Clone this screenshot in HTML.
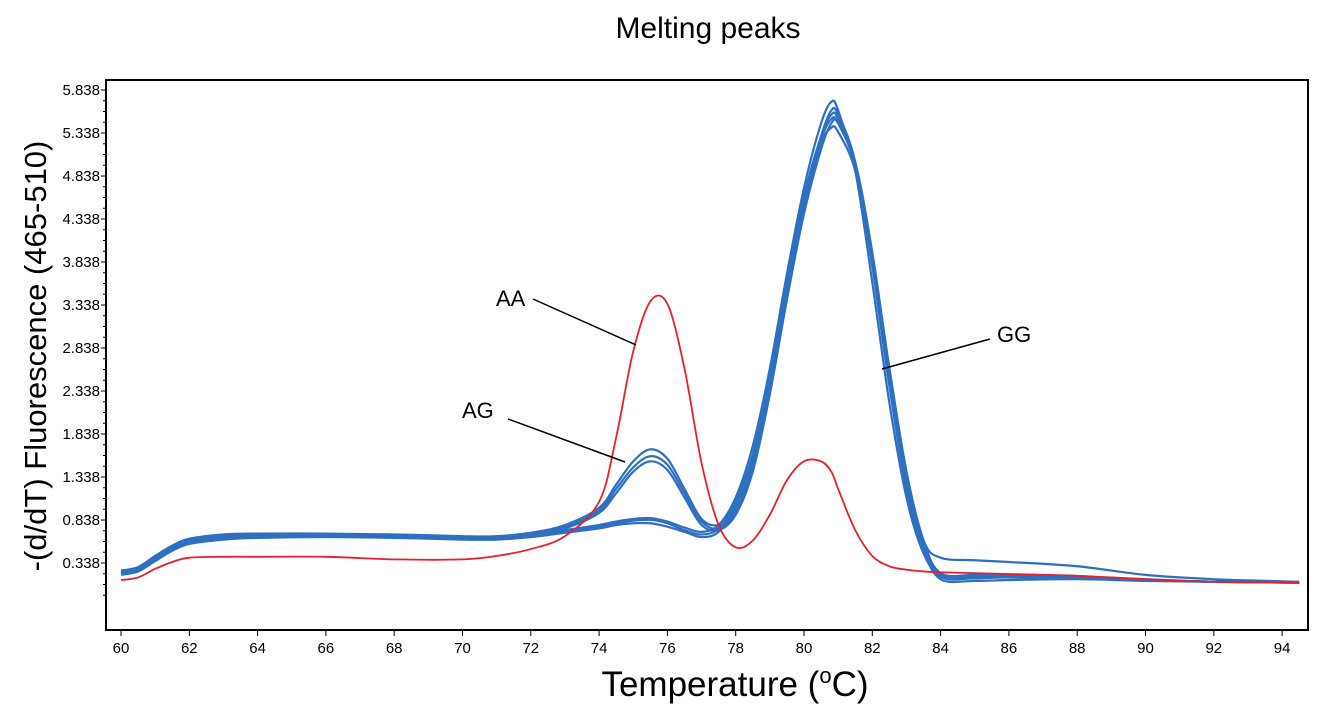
<!DOCTYPE html>
<html><head><meta charset="utf-8"><style>
body{margin:0;background:#fff;}
svg text{font-family:"Liberation Sans",Arial,sans-serif;}
</style></head><body>
<svg id="chart" width="1323" height="716" xmlns="http://www.w3.org/2000/svg">
<rect width="1323" height="716" fill="#fff"/>
<text x="708" y="38" font-size="30" text-anchor="middle">Melting peaks</text>
<text transform="translate(46,356) rotate(-90)" font-size="31" text-anchor="middle">-(d/dT) Fluorescence (465-510)</text>
<text x="735" y="696" font-size="35" text-anchor="middle">Temperature (<tspan font-size="22" dy="-13">o</tspan><tspan dy="13">C)</tspan></text>
<rect x="106" y="80" width="1202" height="550" fill="none" stroke="#000" stroke-width="2"/>
<g id="ticks"></g>
<g id="series"></g>
<g font-size="22">
<text x="496" y="306">AA</text>
<line x1="533" y1="299" x2="636" y2="345" stroke="#000" stroke-width="1.5"/>
<text x="462" y="418">AG</text>
<line x1="508" y1="419" x2="625" y2="462" stroke="#000" stroke-width="1.5"/>
<text x="997" y="342">GG</text>
<line x1="990" y1="339" x2="882" y2="369" stroke="#000" stroke-width="1.5"/>
</g>
</svg>
<script>
const temps=[60,60.5,61,61.5,62,63,64,66,68,70,71,72,73,74,74.5,75,75.5,76,76.5,77,77.5,78,78.5,79,79.5,80,80.5,80.8,81,81.5,82,82.5,83,83.5,84,85,86,88,90,92,94.5];
const redAA=[0.14,0.17,0.27,0.35,0.40,0.41,0.41,0.41,0.38,0.38,0.42,0.50,0.65,1.05,1.8,2.8,3.38,3.35,2.6,1.5,0.78,0.52,0.6,0.9,1.3,1.52,1.52,1.4,1.2,0.72,0.42,0.3,0.26,0.24,0.23,0.22,0.21,0.19,0.15,0.12,0.11];
const gg1=[0.24,0.28,0.40,0.52,0.60,0.65,0.66,0.66,0.65,0.63,0.63,0.66,0.72,0.78,0.82,0.85,0.86,0.82,0.75,0.70,0.78,1.1,1.7,2.6,3.7,4.7,5.45,5.7,5.6,4.9,3.6,2.2,1.1,0.45,0.2,0.17,0.17,0.16,0.14,0.12,0.11];
const gg2=[0.22,0.26,0.38,0.50,0.58,0.63,0.64,0.65,0.64,0.62,0.62,0.65,0.70,0.76,0.80,0.83,0.84,0.80,0.72,0.67,0.74,1.05,1.6,2.5,3.6,4.6,5.3,5.55,5.5,4.95,3.8,2.4,1.25,0.5,0.15,0.13,0.14,0.15,0.13,0.12,0.11];
const gg3=[0.20,0.24,0.36,0.48,0.56,0.61,0.63,0.64,0.63,0.61,0.61,0.64,0.69,0.74,0.78,0.80,0.80,0.76,0.70,0.64,0.70,1.0,1.55,2.4,3.45,4.45,5.2,5.4,5.35,4.9,3.9,2.6,1.4,0.6,0.4,0.37,0.35,0.3,0.2,0.15,0.12];
const ag1=[0.25,0.29,0.42,0.54,0.62,0.67,0.68,0.68,0.67,0.65,0.65,0.69,0.78,0.98,1.25,1.52,1.66,1.55,1.2,0.85,0.78,0.95,1.5,2.4,3.5,4.55,5.3,5.6,5.55,5.0,3.8,2.4,1.2,0.5,0.2,0.18,0.18,0.17,0.14,0.12,0.11];
const ag2=[0.23,0.27,0.40,0.52,0.60,0.65,0.66,0.67,0.66,0.64,0.64,0.68,0.76,0.95,1.2,1.45,1.58,1.48,1.15,0.82,0.74,0.92,1.45,2.35,3.45,4.5,5.25,5.5,5.45,4.95,3.85,2.5,1.3,0.55,0.18,0.16,0.17,0.16,0.14,0.12,0.11];
const ag3=[0.21,0.25,0.38,0.50,0.58,0.63,0.65,0.66,0.65,0.63,0.63,0.67,0.74,0.92,1.15,1.4,1.52,1.42,1.1,0.78,0.72,0.9,1.4,2.3,3.4,4.4,5.15,5.45,5.45,5.0,3.95,2.6,1.4,0.6,0.22,0.2,0.2,0.18,0.15,0.12,0.11];
const xTicks=[60,62,64,66,68,70,72,74,76,78,80,82,84,86,88,90,92,94];
const yTicks=[0.338,0.838,1.338,1.838,2.338,2.838,3.338,3.838,4.338,4.838,5.338,5.838];
const xS=t=>121+(t-60)*34.15;
const yS=v=>563-(v-0.338)*86;
const NS='http://www.w3.org/2000/svg';
const tg=document.getElementById('ticks');
xTicks.forEach(t=>{
 const l=document.createElementNS(NS,'line');
 
 
 l.setAttribute('x1',xS(t));l.setAttribute('x2',xS(t));l.setAttribute('y1',630);l.setAttribute('y2',636);l.setAttribute('stroke','#000');
 tg.appendChild(l);
 const tx=document.createElementNS(NS,'text');
 
 
 tx.setAttribute('x',xS(t));tx.setAttribute('y',653);tx.setAttribute('font-size','15');tx.setAttribute('text-anchor','middle');
 tx.textContent=t;tg.appendChild(tx);
});
function minor(yy){
 if(yy<82||yy>628)return;
 const m=document.createElementNS(NS,'line');
 
 
 m.setAttribute('x1',103);m.setAttribute('x2',106);m.setAttribute('y1',yy);m.setAttribute('y2',yy);m.setAttribute('stroke','#000');
 tg.appendChild(m);
}
yTicks.forEach(v=>{
 const l=document.createElementNS(NS,'line');
 
 
 l.setAttribute('x1',101);l.setAttribute('x2',106);l.setAttribute('y1',yS(v));l.setAttribute('y2',yS(v));l.setAttribute('stroke','#000');
 tg.appendChild(l);
 for(let k=1;k<4;k++)minor(yS(v+k*0.125));
 const tx=document.createElementNS(NS,'text');
 
 
 tx.setAttribute('x',100);tx.setAttribute('y',yS(v)+5);tx.setAttribute('font-size','15');tx.setAttribute('text-anchor','end');
 tx.textContent=v.toFixed(3);tg.appendChild(tx);
});
for(let k=1;k<4;k++)minor(yS(0.338-k*0.125));
function pathD(vals){
 const p=temps.map((t,i)=>[xS(t),yS(vals[i])]);
 let d='M'+p[0][0]+','+p[0][1];
 for(let i=0;i<p.length-1;i++){
  const p0=p[Math.max(0,i-1)],p1=p[i],p2=p[i+1],p3=p[Math.min(p.length-1,i+2)];
  const c1=[p1[0]+(p2[0]-p0[0])/6,p1[1]+(p2[1]-p0[1])/6];
  const c2=[p2[0]-(p3[0]-p1[0])/6,p2[1]-(p3[1]-p1[1])/6];
  d+=' C'+c1+' '+c2+' '+p2;
 }
 return d;
}
const sg=document.getElementById('series');
function draw(vals,color,name,w){
 const pa=document.createElementNS(NS,'path');
 
 
 pa.setAttribute('d',pathD(vals));pa.setAttribute('fill','none');pa.setAttribute('stroke',color);pa.setAttribute('stroke-width',w);
 sg.appendChild(pa);
}
[[gg1,'gg-curve-1'],[gg2,'gg-curve-2'],[gg3,'gg-curve-3'],[ag1,'ag-curve-1'],[ag2,'ag-curve-2'],[ag3,'ag-curve-3']].forEach(s=>draw(s[0],'#2e6fc0',s[1],2.2));
draw(redAA,'#e8202a','aa-curve',1.8);
</script>
</body></html>
